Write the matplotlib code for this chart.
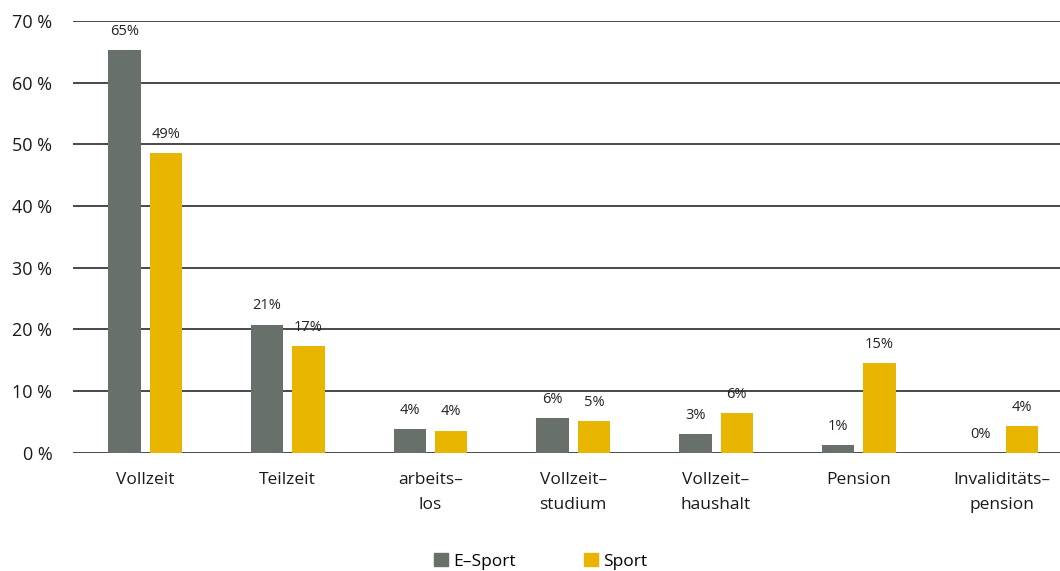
import matplotlib.pyplot as plt
from matplotlib.patches import Patch
import numpy as np

plt.rcParams['font.family'] = ['Open Sans', 'DejaVu Sans']

categories = ['Vollzeit', 'Teilzeit', 'arbeits–\nlos', 'Vollzeit–\nstudium',
              'Vollzeit–\nhaushalt', 'Pension', 'Invaliditäts–\npension']
esport = [65.3, 20.8, 3.8, 5.7, 3.1, 1.3, 0.0]
sport = [48.6, 17.3, 3.6, 5.2, 6.4, 14.6, 4.3]
series_names = ['E–Sport', 'Sport']
yticks = [0, 10, 20, 30, 40, 50, 60, 70]

c_esport = '#67716a'
c_sport = '#e8b500'

fig = plt.figure(figsize=(10.6, 5.71), dpi=100)
ax = fig.add_axes([0.069, 0.207, 0.931, 0.756])

x = np.arange(len(categories))
w = 0.227
off = 0.145

ax.set_axisbelow(True)
for t in yticks:
    ax.axhline(t, color='#3a3a3a', lw=1.3, zorder=0)

b1 = ax.bar(x - off, esport, w, color=c_esport, zorder=2)
b2 = ax.bar(x + off, sport, w, color=c_sport, zorder=2)

for bars, vals in ((b1, esport), (b2, sport)):
    for b, v in zip(bars, vals):
        ax.annotate(f'{v:.0f}%', (b.get_x() + b.get_width() / 2, v),
                    xytext=(0, 8), textcoords='offset points',
                    ha='center', va='bottom', fontsize=10.5, color='#222222')

ax.set_xlim(-0.504, 6.41)
ax.set_ylim(0, 70)
ax.set_yticks(yticks)
ax.set_yticklabels([f'{t} %' for t in yticks], fontsize=13, color='#1a1a1a')
ax.set_xticks(x)
ax.set_xticklabels(categories, fontsize=12.5, color='#1a1a1a', linespacing=1.75)
ax.tick_params(axis='y', length=0, pad=15)
ax.tick_params(axis='x', length=0, pad=14)
for s in ax.spines.values():
    s.set_visible(False)

handles = [Patch(color=c_esport, label=series_names[0]),
           Patch(color=c_sport, label=series_names[1])]
fig.legend(handles=handles, loc='center', bbox_to_anchor=(0.51, 0.017),
           ncol=2, frameon=False, fontsize=12.5, handlelength=0.8,
           handleheight=0.8, handletextpad=0.3, columnspacing=3.9)

fig.savefig('out.png', dpi=100)
